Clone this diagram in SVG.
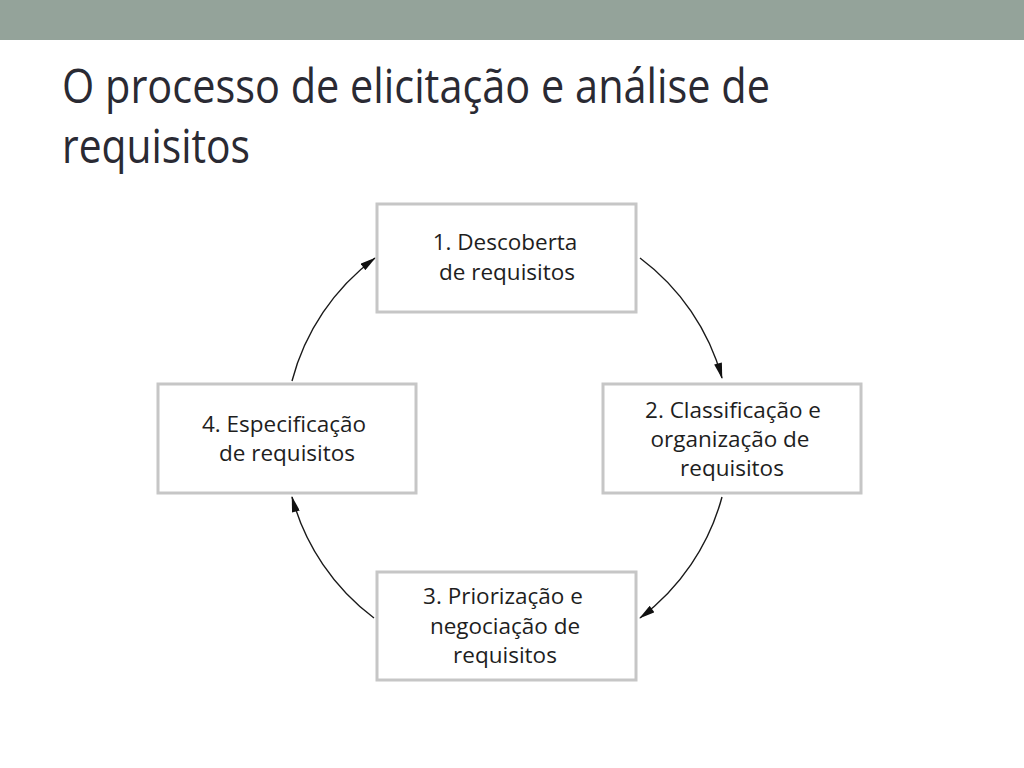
<svg xmlns="http://www.w3.org/2000/svg" width="1024" height="768" viewBox="0 0 1024 768">
<style>
.box{fill:#fff;stroke:#c6c6c6;stroke-width:3}
.lbl{font-family:"Open Sans","Noto Sans",sans-serif;font-size:22.5px;fill:#1e1e1e;text-anchor:middle}
.title{font-family:"Open Sans","Noto Sans",sans-serif;font-size:47px;fill:#2a2a33}
.arc{fill:none;stroke:#1a1a1a;stroke-width:1.4}
</style>
<defs>
<marker id="ah" viewBox="0 0 16 8" refX="15" refY="4" markerWidth="17" markerHeight="8" markerUnits="userSpaceOnUse" orient="auto">
<path d="M0,0 L16,4 L0,8 Z" fill="#111"/>
</marker>
</defs>
<rect x="0" y="0" width="1024" height="40" fill="#94a39a"/>
<text class="title" x="62" y="103" textLength="708" lengthAdjust="spacingAndGlyphs">O processo de elicitação e análise de</text>
<text class="title" x="62" y="163" textLength="188" lengthAdjust="spacingAndGlyphs">requisitos</text>
<g id="connectors">
<path class="arc" d="M640,258 A224,224 0 0 1 722,378" marker-end="url(#ah)"/>
<path class="arc" d="M722,497 A224,224 0 0 1 640,618" marker-end="url(#ah)"/>
<path class="arc" d="M374,618 A224,224 0 0 1 292,497" marker-end="url(#ah)"/>
<path class="arc" d="M292,381 A224,224 0 0 1 375,258" marker-end="url(#ah)"/>
</g>
<g id="n1">
<rect class="box" x="377" y="204" width="259" height="108"/>
<text class="lbl" x="505" y="250">1. Descoberta</text>
<text class="lbl" x="507" y="280">de requisitos</text>
</g>
<g id="n2">
<rect class="box" x="603" y="384" width="258" height="109"/>
<text class="lbl" x="733" y="418">2. Classificação e</text>
<text class="lbl" x="730" y="447">organização de</text>
<text class="lbl" x="732" y="476">requisitos</text>
</g>
<g id="n3">
<rect class="box" x="377" y="572" width="259" height="108"/>
<text class="lbl" x="503" y="604">3. Priorização e</text>
<text class="lbl" x="505" y="634">negociação de</text>
<text class="lbl" x="505" y="663">requisitos</text>
</g>
<g id="n4">
<rect class="box" x="158" y="384" width="258" height="109"/>
<text class="lbl" x="284" y="432">4. Especificação</text>
<text class="lbl" x="287" y="461">de requisitos</text>
</g>
</svg>
